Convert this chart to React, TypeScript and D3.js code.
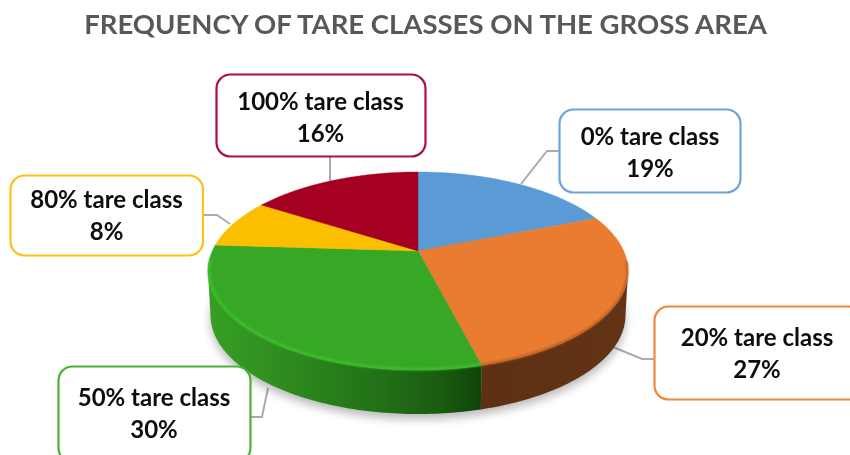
import React from "react";
import * as d3 from "d3";

const title = "FREQUENCY OF TARE CLASSES ON THE GROSS AREA";
const categories = ["0% tare class", "20% tare class", "50% tare class", "80% tare class", "100% tare class"];
const shares = [19, 27, 30, 8, 16];
const colors = ["#5b9bd5", "#e97c30", "#36a825", "#fcbf00", "#a50021"];
const borders = ["#6ba5da", "#f0883e", "#4cb03c", "#fdc21a", "#ab1237"];

// layout of the callouts: box [x0, y0, x1, y1], text centre x, leader line
const boxes = [
  [559.5, 109.5, 740.5, 192.5],
  [654.5, 306.5, 862, 399.5],
  [58.5, 366.5, 250.5, 462],
  [10.5, 175.5, 203, 255.5],
  [216.5, 74.5, 425.5, 156.5],
];
const textCx = [650, 757, 154, 106.5, 320.5];
const textY = [[145, 177], [346, 378], [406, 438], [208, 240], [110, 142]];
const leaders = [
  [[559, 151], [547, 151], [521, 184]],
  [[654, 359], [642, 359], [613, 347]],
  [[251, 417], [262, 417], [268, 388]],
  [[203, 215], [217, 215], [230, 224]],
  [[330, 157], [330, 181]],
];

const CX = 418, APEX_Y = 251, A = 205.7, B = 95, K = 0.202, DEPTH = 44;
const visibleFrom = (101.7 * Math.PI) / 180;
const visibleTo = (258.3 * Math.PI) / 180;

// tilted disc: angle clockwise from 12 o'clock -> picture position
const project = (t: number, r = 1, drop = 0): [number, number] => {
  const u = Math.sin(t) * r;
  const v = -Math.cos(t) * r;
  const w = 1 - K * v;
  const shrink = 1 - (0.012 * drop) / DEPTH;
  return [CX + (A * u * shrink) / w, APEX_Y + (B * v) / w + drop];
};

const arcs = d3.pie<number>().sort(null)(shares);
const line = d3.line();
const steps = (a: number, b: number) => {
  const n = Math.max(2, Math.ceil((b - a) * 60));
  return d3.range(n + 1).map((i) => a + ((b - a) * i) / n);
};
const facePath = (a: number, b: number) =>
  line([[CX, APEX_Y], ...steps(a, b).map((t) => project(t))])! + "Z";
const sidePath = (a: number, b: number) =>
  line([
    ...steps(a, b).map((t) => project(t)),
    ...steps(a, b).reverse().map((t) => project(t, 1, DEPTH)),
  ])! + "Z";
const rimPath = (a: number, b: number, r: number) => line(steps(a, b).map((t) => project(t, r)))!;

const FONT = "Lato, 'Open Sans', sans-serif";

export default function App() {
  const sides = arcs
    .map((d, i) => ({ i, a: Math.max(d.startAngle, visibleFrom), b: Math.min(d.endAngle, visibleTo) }))
    .filter((d) => d.b > d.a);
  const wholeBase = line(steps(0, Math.PI * 2).map((t) => project(t, 1, DEPTH)))! + "Z";
  return (
    <svg width={850} height={455} style={{ position: "absolute", left: 0, top: 0, background: "#fff" }}>
      <defs>
        <filter id="shadow" x="-20%" y="-20%" width="140%" height="140%">
          <feGaussianBlur stdDeviation="5" />
        </filter>
        <filter id="soft" x="-5%" y="-5%" width="110%" height="110%">
          <feGaussianBlur stdDeviation="0.8" />
        </filter>
        <filter id="txt" x="-5%" y="-20%" width="110%" height="140%">
          <feGaussianBlur stdDeviation="0.35" />
        </filter>
        <linearGradient id="side2" gradientUnits="userSpaceOnUse" x1={208} x2={478} y1={0} y2={0}>
          <stop offset="0" stopColor="#36a024" />
          <stop offset="0.3" stopColor="#2e8a1f" />
          <stop offset="0.65" stopColor="#216f17" />
          <stop offset="0.88" stopColor="#19590f" />
          <stop offset="1" stopColor="#11450a" />
        </linearGradient>
        <linearGradient id="side1" gradientUnits="userSpaceOnUse" x1={478} x2={628} y1={0} y2={0}>
          <stop offset="0" stopColor="#5e3013" />
          <stop offset="1" stopColor="#623315" />
        </linearGradient>
      </defs>

      <text x={425.5} y={34} textAnchor="middle" fontFamily={FONT} fontWeight={700} fontSize={27.5} fill="#595959" filter="url(#txt)">
        {title}
      </text>

      {leaders.map((pts, i) => (
        <path key={i} d={line(pts as [number, number][])!} fill="none" stroke="#ababab" strokeWidth={2} />
      ))}

      <path d={wholeBase} fill="#000" opacity={0.28} filter="url(#shadow)" transform="translate(0,5)" />

      {sides.map((s) => (
        <path key={s.i} d={sidePath(s.a, s.b)} fill={`url(#side${s.i})`} />
      ))}

      {arcs.map((d, i) => (
        <path key={i} d={facePath(d.startAngle, d.endAngle)} fill={colors[i]} stroke={colors[i]} strokeWidth={0.4} />
      ))}

      {/* bevel on the front edge of the top face */}
      <path d={rimPath(arcs[2].startAngle, visibleTo + 0.12, 0.994)} fill="none" stroke="#3fc02e" strokeWidth={2.4} filter="url(#soft)" />
      <path d={rimPath(visibleFrom - 0.1, arcs[1].endAngle, 0.997)} fill="none" stroke="#a85a22" strokeWidth={1.8} filter="url(#soft)" />

      {boxes.map((b, i) => (
        <g key={i}>
          <rect x={b[0]} y={b[1]} width={b[2] - b[0]} height={b[3] - b[1]} rx={14} fill="#fff" stroke={borders[i]} strokeWidth={2.2} />
          <g filter="url(#txt)">
            <text x={textCx[i]} y={textY[i][0]} textAnchor="middle" fontFamily={FONT} fontWeight={700} fontSize={24} fill="#0d0d0d">
              {categories[i]}
            </text>
            <text x={textCx[i]} y={textY[i][1]} textAnchor="middle" fontFamily={FONT} fontWeight={700} fontSize={24} fill="#0d0d0d">
              {shares[i]}%
            </text>
          </g>
        </g>
      ))}
    </svg>
  );
}
